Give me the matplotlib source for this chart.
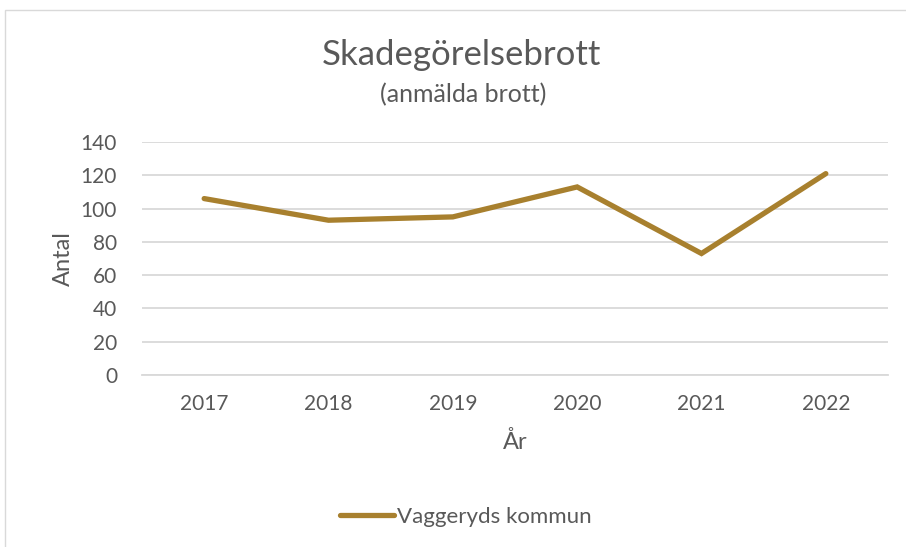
import matplotlib.pyplot as plt
from matplotlib.patches import Rectangle

plt.rcParams['font.family'] = ['Lato', 'DejaVu Sans']

# data
years = ['2017', '2018', '2019', '2020', '2021', '2022']
antal = [106, 93, 95, 113, 73, 121]
serie_namn = 'Vaggeryds kommun'

W, H = 906, 547
fig = plt.figure(figsize=(W / 100, H / 100), dpi=100)
ax = fig.add_axes([142 / W, 1 - 375 / H, (888 - 142) / W, (375 - 142) / H])

textfarg = '#595959'
linjefarg = '#A8802E'

x = range(len(years))
ax.plot(x, antal, color=linjefarg, linewidth=3.8, solid_capstyle='round',
        solid_joinstyle='miter', label=serie_namn)

ax.set_xlim(-0.5, len(years) - 0.5)
ax.set_ylim(0, 140)
ax.set_yticks(range(0, 141, 20))
ax.set_xticks(list(x))
ax.set_xticklabels(years)
ax.grid(axis='y', color='#D9D9D9', linewidth=1.3)
ax.set_axisbelow(True)
for s in ['top', 'right', 'left']:
    ax.spines[s].set_visible(False)
ax.spines['bottom'].set_color('#D9D9D9')
ax.spines['bottom'].set_linewidth(1.3)
ax.tick_params(length=0, labelsize=15, colors=textfarg)
ax.tick_params(axis='x', pad=14)
ax.tick_params(axis='y', pad=18)

ax.set_xlabel('År', fontsize=17, color=textfarg, labelpad=12)
ax.set_ylabel('Antal', fontsize=17, color=textfarg, labelpad=5)

fig.text(461 / W, 1 - 55 / H, 'Skadegörelsebrott', ha='center', va='center',
         fontsize=25, color=textfarg)
fig.text(463 / W, 1 - 95 / H, '(anmälda brott)', ha='center', va='center',
         fontsize=18, color=textfarg)

leg = fig.legend(loc='center', bbox_to_anchor=(466 / W, 1 - 517 / H), frameon=False,
                 fontsize=16, labelcolor=textfarg, handlelength=2.4, handletextpad=0.15)

# ram runt diagrammet
fig.patches.append(Rectangle((5 / W, -0.05), 1.0, 1 - 10 / H + 0.05,
                             transform=fig.transFigure, fill=False,
                             edgecolor='#D9D9D9', linewidth=1))

fig.savefig('out.png', dpi=100)
